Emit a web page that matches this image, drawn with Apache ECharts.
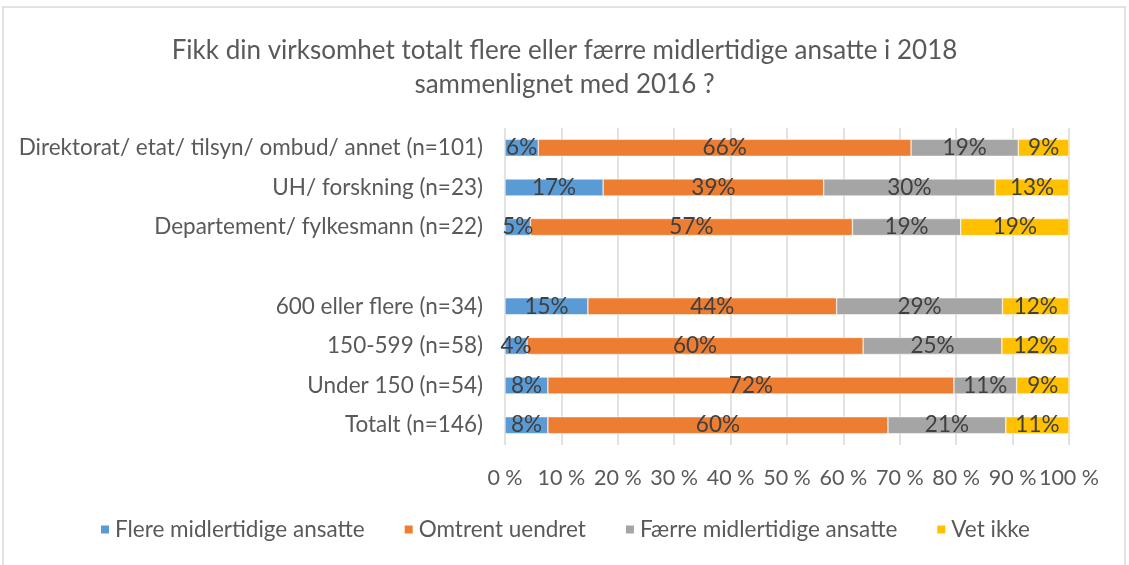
<!DOCTYPE html>
<html><head><meta charset="utf-8">
<script src="https://cdn.jsdelivr.net/npm/echarts@6/dist/echarts.min.js"></script>
<style>html,body{margin:0;padding:0;background:#fff}#c{width:1129px;height:565px}</style>
</head><body><div id="c"></div>
<script>
const categories = ['Totalt (n=146)','Under 150 (n=54)','150-599 (n=58)','600 eller flere (n=34)','','Departement/ fylkesmann (n=22)','UH/ forskning (n=23)','Direktorat/ etat/ tilsyn/ ombud/ annet (n=101)'];
const seriesNames = ['Flere midlertidige ansatte','Omtrent uendret','Færre midlertidige ansatte','Vet ikke'];
const flere   = [7.6, 7.6, 3.9, 14.7, null, 4.5, 17.4, 5.9];
const uendret = [60.3, 72.0, 59.6, 44.1, null, 57.1, 39.1, 66.1];
const faerre  = [20.9, 11.1, 24.6, 29.4, null, 19.2, 30.4, 19.0];
const vetikke = [11.2, 9.3, 11.9, 11.8, null, 19.2, 13.1, 9.0];
const colors = ['#5b9bd5','#ed7d31','#a5a5a5','#ffc000'];
const FONT = "Lato, sans-serif";
const chart = echarts.init(document.getElementById('c'));
const mk = (name, data, i) => ({
  name, type:'bar', stack:'s', data, barWidth:17,
  itemStyle:{color:colors[i], borderColor:'#fff', borderWidth:0.5},
  label:{show:true, position:'inside', color:'#404040', fontSize:22.5, fontFamily:FONT,
    formatter:p => Math.round(p.value)+'%'}
});
chart.setOption({
  animation:false,
  textStyle:{fontFamily:FONT},
  graphic:[{type:'rect', shape:{x:3,y:7,width:1122,height:570}, style:{fill:'none', stroke:'#d9d9d9', lineWidth:1.5}, silent:true}],
  title:{text:'Fikk din virksomhet totalt flere eller færre midlertidige ansatte i 2018\nsammenlignet med 2016 ?',
    left:'center', top:29, textStyle:{fontFamily:FONT, fontSize:26, fontWeight:'normal', color:'#595959', lineHeight:34}},
  legend:{bottom:19, left:'center', itemWidth:10, itemHeight:10, itemGap:38, icon:'rect',
    textStyle:{fontFamily:FONT, fontSize:22.5, color:'#595959'}, data:seriesNames},
  grid:{left:505, right:60, top:128, bottom:120},
  xAxis:{type:'value', min:0, max:100, interval:10,
    axisLabel:{formatter:'{value} %', color:'#595959', fontSize:21.5, fontFamily:FONT, margin:22},
    splitLine:{lineStyle:{color:'#d9d9d9', width:1.5}}, axisLine:{show:false}, axisTick:{show:false}},
  yAxis:{type:'category', data:categories,
    axisLabel:{color:'#595959', fontSize:22.5, fontFamily:FONT, margin:22},
    axisLine:{show:false}, axisTick:{show:false}},
  series:[mk(seriesNames[0],flere,0), mk(seriesNames[1],uendret,1), mk(seriesNames[2],faerre,2), mk(seriesNames[3],vetikke,3)]
});
</script></body></html>
